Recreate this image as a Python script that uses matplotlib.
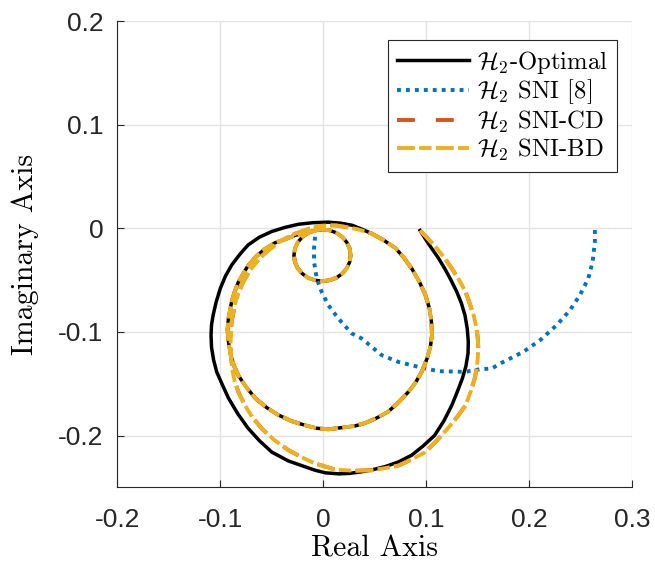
import matplotlib
matplotlib.use("Agg")
import matplotlib.pyplot as plt

# H2-optimal: outer loop, starting at the right and running clockwise
opt_outer_re = [0.094, 0.099, 0.105, 0.112, 0.118, 0.124, 0.1295, 0.134, 0.1376, 0.1398,
                0.1408, 0.1405, 0.1385, 0.135, 0.130, 0.1247, 0.117, 0.108, 0.097, 0.0858,
                0.073, 0.060, 0.048, 0.037, 0.026, 0.015, 0.002, -0.008, -0.018, -0.034,
                -0.050, -0.062, -0.073, -0.083, -0.092, -0.098, -0.1035, -0.1065, -0.1085, -0.109,
                -0.1085, -0.107, -0.104, -0.100, -0.095, -0.089, -0.081, -0.073, -0.062, -0.050,
                -0.037, -0.024, -0.010, 0.005, 0.017, 0.028, 0.038]
opt_outer_im = [-0.002, -0.010, -0.019, -0.029, -0.039, -0.050, -0.061, -0.072, -0.084, -0.097,
                -0.1096, -0.121, -0.133, -0.145, -0.158, -0.171, -0.186, -0.200, -0.210, -0.219,
                -0.2255, -0.230, -0.233, -0.235, -0.2365, -0.237, -0.236, -0.2335, -0.230, -0.2245,
                -0.216, -0.205, -0.193, -0.179, -0.164, -0.151, -0.1386, -0.127, -0.115, -0.103,
                -0.093, -0.084, -0.071, -0.058, -0.046, -0.0355, -0.025, -0.016, -0.0085, -0.003,
                0.001, 0.004, 0.0055, 0.006, 0.005, 0.003, -0.001]

# SNI-BD: outer loop
bd_outer_re = [0.094, 0.1015, 0.110, 0.118, 0.125, 0.132, 0.138, 0.142, 0.146, 0.1485,
               0.150, 0.1505, 0.150, 0.149, 0.147, 0.143, 0.138, 0.130, 0.121, 0.110,
               0.099, 0.086, 0.073, 0.060, 0.047, 0.031, 0.012, -0.008, -0.021, -0.034,
               -0.048, -0.060, -0.069, -0.076, -0.082, -0.086, -0.088, -0.089, -0.090, -0.090,
               -0.0895, -0.089, -0.087, -0.085, -0.082, -0.079, -0.075, -0.071, -0.065, -0.059,
               -0.052, -0.044, -0.036, -0.027, -0.018, -0.010, -0.002, 0.005, 0.013, 0.021,
               0.034]
bd_outer_im = [-0.002, -0.010, -0.019, -0.029, -0.039, -0.050, -0.061, -0.072, -0.084, -0.095,
               -0.106, -0.1155, -0.125, -0.135, -0.145, -0.158, -0.171, -0.182, -0.193, -0.205,
               -0.216, -0.223, -0.229, -0.2315, -0.2335, -0.234, -0.233, -0.227, -0.221, -0.214,
               -0.204, -0.193, -0.182, -0.171, -0.159, -0.148, -0.138, -0.129, -0.120, -0.110,
               -0.100, -0.090, -0.080, -0.070, -0.062, -0.054, -0.047, -0.040, -0.033, -0.026,
               -0.020, -0.014, -0.009, -0.005, -0.002, 0.001, 0.0025, 0.003, 0.0028, 0.0015,
               -0.001]

# inner loop, the same for optimal, CD and BD
inner_re = [0.047, 0.058, 0.070, 0.078, 0.086, 0.093, 0.099, 0.103, 0.105, 0.1055,
            0.104, 0.101, 0.0955, 0.0895, 0.0825, 0.073, 0.063, 0.052, 0.0405, 0.031,
            0.021, 0.005, -0.006, -0.018, -0.031, -0.044, -0.055, -0.066, -0.075, -0.0825,
            -0.087, -0.090, -0.092, -0.093, -0.092, -0.089, -0.086, -0.0825, -0.078, -0.073,
            -0.066, -0.057, -0.047, -0.037, -0.027]
inner_im = [-0.005, -0.011, -0.019, -0.028, -0.039, -0.051, -0.064, -0.077, -0.090, -0.103,
            -0.114, -0.125, -0.1386, -0.149, -0.158, -0.168, -0.177, -0.183, -0.188, -0.1907,
            -0.192, -0.194, -0.193, -0.190, -0.186, -0.180, -0.173, -0.164, -0.153, -0.142,
            -0.132, -0.122, -0.110, -0.098, -0.086, -0.071, -0.061, -0.052, -0.044, -0.036,
            -0.028, -0.020, -0.014, -0.0105, -0.0065]

# small loop near the origin
small_re = [-0.0148, -0.0081, -0.001, 0.0061, 0.0128, 0.0184, 0.0228, 0.0256, 0.0265, 0.0256,
            0.0228, 0.0184, 0.0128, 0.0061, -0.001, -0.0081, -0.0148, -0.0204, -0.0248, -0.0276,
            -0.0285, -0.0276, -0.0248, -0.0204, -0.0148, -0.0081, -0.001]
small_im = [-0.0043, -0.0019, -0.001, -0.0019, -0.0043, -0.0083, -0.0135, -0.0195, -0.026, -0.0325,
            -0.0385, -0.0437, -0.0477, -0.0501, -0.051, -0.0501, -0.0477, -0.0437, -0.0385, -0.0325,
            -0.026, -0.0195, -0.0135, -0.0083, -0.0043, -0.0019, -0.001]

# SNI [8]
sni_re = [0.2637, 0.2637, 0.2615, 0.2573, 0.2492, 0.2395, 0.2266, 0.2104, 0.1942, 0.1748,
          0.1635, 0.152, 0.1376, 0.1117, 0.0922, 0.0728, 0.0567, 0.0373, 0.0276, 0.0146,
          0.0049, -0.0016, -0.0064, -0.009, -0.009, -0.008]
sni_im = [-0.0016, -0.0129, -0.0323, -0.0483, -0.0644, -0.079, -0.0934, -0.108, -0.1192, -0.1289,
          -0.1353, -0.136, -0.1385, -0.1379, -0.1337, -0.1289, -0.1224, -0.1063, -0.1014, -0.087,
          -0.0741, -0.0613, -0.0483, -0.0323, -0.0193, -0.0081]

labels = [r'$\mathcal{H}_2$-Optimal', r'$\mathcal{H}_2$ SNI [8]',
          r'$\mathcal{H}_2$ SNI-CD', r'$\mathcal{H}_2$ SNI-BD']
xticks = [-0.2, -0.1, 0, 0.1, 0.2, 0.3]
xticklabels = ['-0.2', '-0.1', '0', '0.1', '0.2', '0.3']
yticks = [-0.2, -0.1, 0, 0.1, 0.2]
yticklabels = ['-0.2', '-0.1', '0', '0.1', '0.2']

opt_re = opt_outer_re + inner_re + small_re
opt_im = opt_outer_im + inner_im + small_im
bd_re = bd_outer_re + inner_re + small_re
bd_im = bd_outer_im + inner_im + small_im
# CD lies right under BD
cd_re, cd_im = bd_re, bd_im

plt.rcParams['mathtext.fontset'] = 'cm'
serif = 'cmr10'
tick_font = 'Liberation Sans'

fig = plt.figure(figsize=(6.55, 5.66), dpi=100)
ax = fig.add_axes([0.1791, 0.139, 0.7862, 0.8235])

# CD dashes sit under the long BD dashes, so CD only shows in the legend
ax.plot(opt_re, opt_im, color='black', lw=2.5, label=labels[0])
ax.plot(sni_re, sni_im, color='#0072BD', lw=2.8, linestyle=(0, (1, 1.3)), label=labels[1])
ax.plot(cd_re, cd_im, color='#D95319', lw=2.8, linestyle=(0, (4.6, 5.4)), label=labels[2])
ax.plot(bd_re, bd_im, color='#EDB120', lw=2.8, linestyle=(0, (4.6, 1.1, 3.2, 1.1)), label=labels[3])

ax.set_xlim(-0.2, 0.3)
ax.set_ylim(-0.25, 0.2)
ax.set_xticks(xticks)
ax.set_xticklabels(xticklabels, fontfamily=tick_font, fontsize=19)
ax.set_yticks(yticks)
ax.set_yticklabels(yticklabels, fontfamily=tick_font, fontsize=19)
ax.tick_params(direction='in', length=5, width=0.8, colors='#262626')
ax.tick_params(axis='x', pad=15)
ax.tick_params(axis='y', pad=10)
ax.grid(True, color='#e3e3e3', lw=1)
ax.set_axisbelow(True)
for s in ['top', 'right']:
    ax.spines[s].set_visible(False)
for s in ['left', 'bottom']:
    ax.spines[s].set_color('#262626')
    ax.spines[s].set_linewidth(0.8)

ax.set_xlabel('Real Axis', fontfamily=serif, fontsize=21.5, labelpad=2)
ax.set_ylabel('Imaginary Axis', fontfamily=serif, fontsize=21.5, labelpad=14)

leg = ax.legend(loc='upper right', bbox_to_anchor=(0.970, 0.960), borderaxespad=0,
                prop={'family': serif, 'size': 17.8}, handlelength=2.94, fancybox=False,
                framealpha=1, edgecolor='#262626', borderpad=0.36, labelspacing=0.08,
                handletextpad=0.3)
leg.get_frame().set_linewidth(0.8)

fig.savefig('out.png', dpi=100)
